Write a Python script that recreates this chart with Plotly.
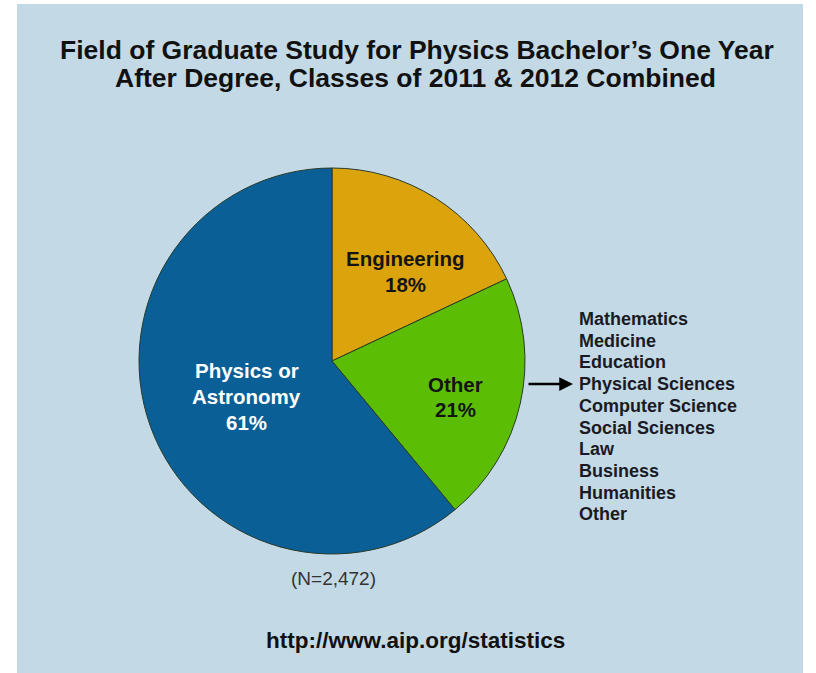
import plotly.graph_objects as go

W, H = 816, 673

# Slice data (clockwise from 12 o'clock)
fields = ["Engineering", "Other", "Physics or Astronomy"]
shares = [18, 21, 61]
slice_colors = ["#dba30c", "#5cbd05", "#0a5f96"]

# Breakdown of the "Other" category
other_fields = ["Mathematics", "Medicine", "Education", "Physical Sciences",
                "Computer Science", "Social Sciences", "Law", "Business",
                "Humanities", "Other"]

title_lines = ["Field of Graduate Study for Physics Bachelor\u2019s One Year",
               "After Degree, Classes of 2011 & 2012 Combined"]
sample_note = "(N=2,472)"
source_url = "http://www.aip.org/statistics"

FONT = "Liberation Sans, Arial, sans-serif"


def px(x):
    return x / W


def py(y):
    return 1 - y / H


cx, cy, r = 332, 361, 193

fig = go.Figure(go.Pie(
    labels=fields,
    values=shares,
    sort=False,
    direction="clockwise",
    rotation=0,
    marker=dict(colors=slice_colors, line=dict(color="#2a3a2a", width=1)),
    textinfo="none",
    hoverinfo="label+percent",
    showlegend=False,
    domain=dict(x=[px(cx - r), px(cx + r)], y=[py(cy + r), py(cy - r)]),
))

ann = []


def text(x, y, s, size, color="#141414", bold=True, xanchor="center"):
    ann.append(dict(
        x=px(x), y=py(y), xref="paper", yref="paper", showarrow=False,
        text=f"<b>{s}</b>" if bold else s, xanchor=xanchor, yanchor="middle",
        font=dict(family=FONT, size=size, color=color),
    ))


# Title
text(417, 50, title_lines[0], 26.5, "#111111")
text(415, 78, title_lines[1], 26.5, "#111111")

# Slice labels
eng, oth, phys = shares
text(405, 258, fields[0], 20.5)
text(405, 284, f"{eng}%", 20.5)
text(455, 384, fields[1], 20.5)
text(455, 410, f"{oth}%", 20.5)
text(247, 370, "Physics or", 20.5, "#ffffff")
text(247, 396, "Astronomy", 20.5, "#ffffff")
text(247, 422, f"{phys}%", 20.5, "#ffffff")

# Breakdown list
for i, name in enumerate(other_fields):
    text(577, 319 + i * 21.7, name, 18, "#1a1a24", xanchor="left")

# Arrow pointing to the list
ann.append(dict(
    x=px(573), y=py(384), xref="paper", yref="paper",
    ax=-46, ay=0, showarrow=True, text="",
    arrowhead=2, arrowsize=1.1, arrowwidth=2.5, arrowcolor="#000000",
))

text(333, 578, sample_note, 19, "#333333", bold=False)
text(415, 640, source_url, 22.5, "#111111")

fig.update_layout(
    width=W, height=H,
    margin=dict(l=0, r=0, t=0, b=0),
    paper_bgcolor="#ffffff",
    plot_bgcolor="#ffffff",
    annotations=ann,
    shapes=[dict(type="rect", xref="paper", yref="paper",
                 x0=px(17), x1=px(803), y0=0, y1=py(4),
                 fillcolor="#c3dae6", line=dict(width=0), layer="below")],
)

fig.write_html("out.html")
